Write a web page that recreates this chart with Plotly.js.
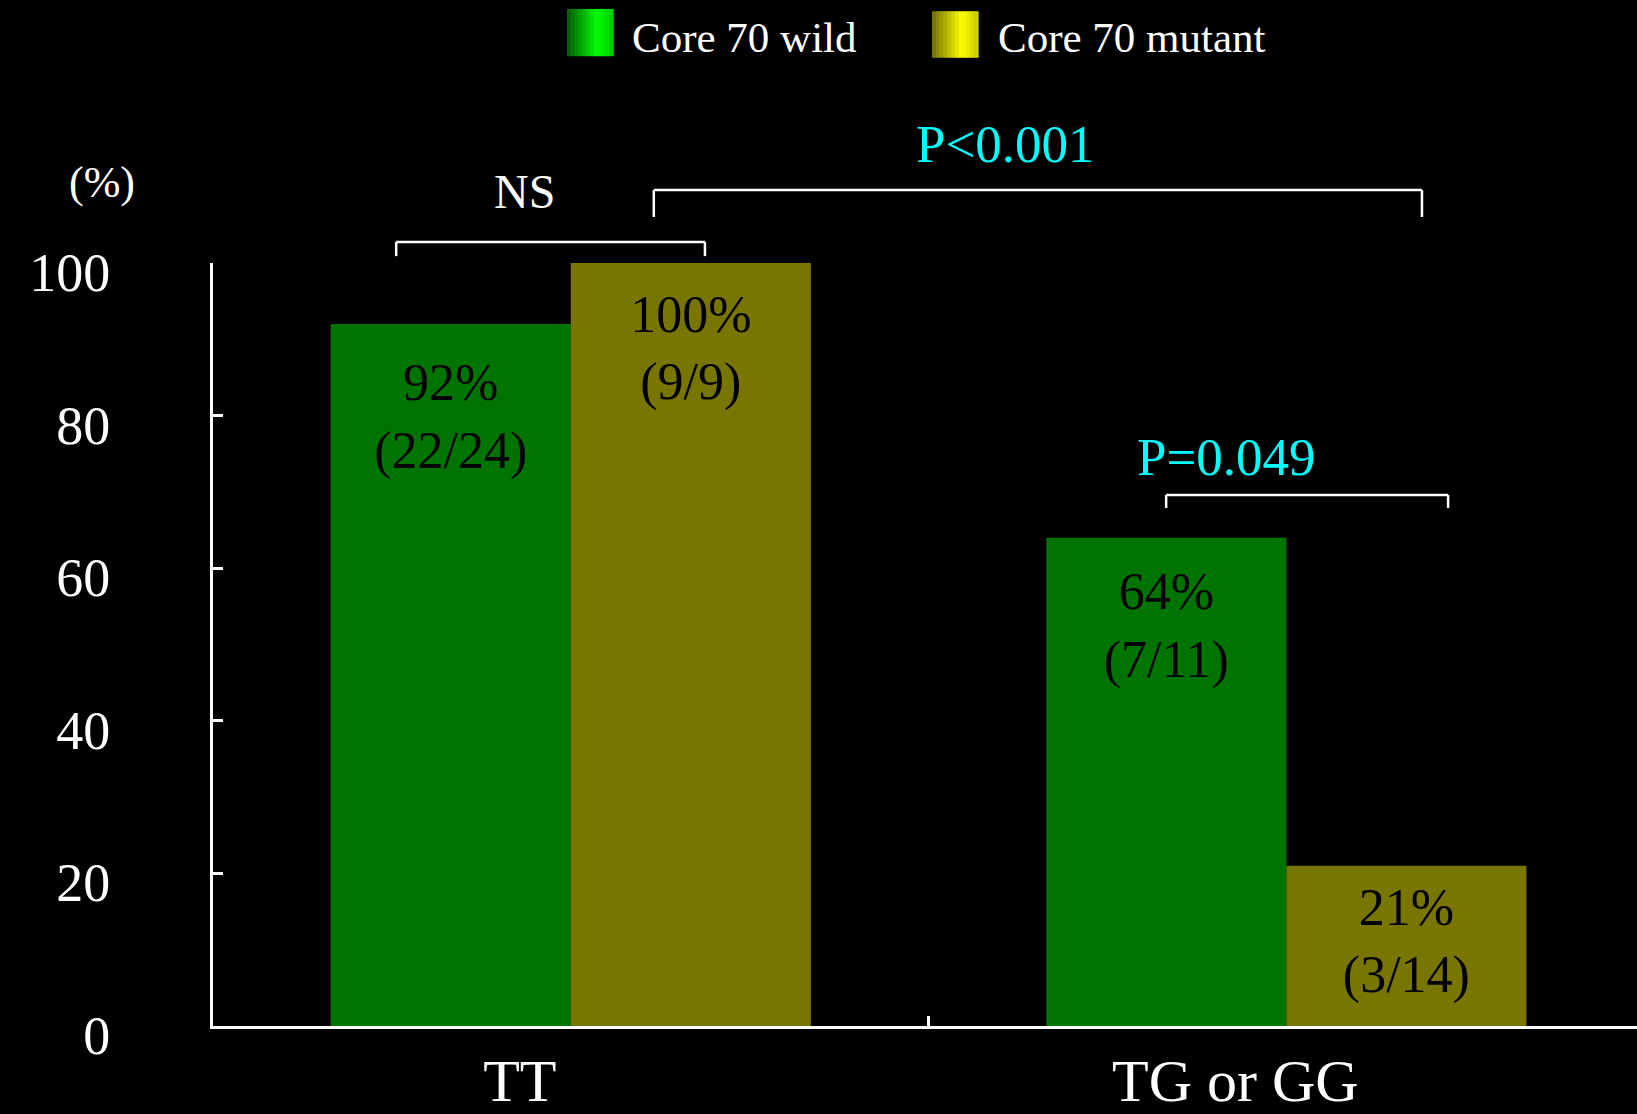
<!DOCTYPE html>
<html>
<head>
<meta charset="utf-8">
<script src="https://cdn.plot.ly/plotly-3.0.1.min.js"></script>
<style>html,body{margin:0;padding:0;background:#000;}#chart{width:1637px;height:1114px;}</style>
</head>
<body>
<div id="chart"></div>
<script>
// ---- data ----
const categories = ['TT', 'TG or GG'];
const wildValues = [92, 64];          // % Core 70 wild
const mutantValues = [100, 21];       // % Core 70 mutant
const wildCounts = ['22/24', '7/11'];
const mutantCounts = ['9/9', '3/14'];
const seriesNames = ['Core 70 wild', 'Core 70 mutant'];
const yTickVals = [0, 20, 40, 60, 80, 100];
const yTickText = ['0', '20', '40', '60', '80', '100'];
const pLabels = ['NS', 'P<0.001', 'P=0.049'];

const FONT = '"Liberation Serif", "Times New Roman", serif';
const WILD = '#007400';
const MUT = '#787600';
const GAP = 0.329;

function barTrace(name, vals, color, group) {
  return {
    type: 'bar', name: name, x: categories, y: vals,
    offsetgroup: group, alignmentgroup: 'a',
    marker: {color: color, line: {width: 0}},
    hoverinfo: 'skip'
  };
}
// invisible markers whose size sets how far below the bar top the label sits
function labelTrace(name, vals, counts, group, padSizes) {
  return {
    type: 'scatter', mode: 'markers+text', name: name + ' labels',
    x: categories, y: vals, customdata: counts,
    offsetgroup: group, alignmentgroup: 'a',
    marker: {size: padSizes, opacity: 0, color: '#000'},
    texttemplate: '%{y}%<br>(%{customdata})',
    textposition: 'bottom center',
    textfont: {family: FONT, size: 52, color: '#000'},
    cliponaxis: false, showlegend: false, hoverinfo: 'skip'
  };
}

const traces = [
  barTrace(seriesNames[0], wildValues, WILD, 'w'),
  barTrace(seriesNames[1], mutantValues, MUT, 'm'),
  labelTrace(seriesNames[0], wildValues, wildCounts, 'w', [58, 50]),
  labelTrace(seriesNames[1], mutantValues, mutantCounts, 'm', [46, 30])
];

// bracket helper (x in category units, y in paper units)
function bracket(x0, x1, yTop, yLeg) {
  const l = {color: '#fff', width: 2.5};
  return [
    {type: 'line', xref: 'x', yref: 'paper', x0: x0, x1: x1, y0: yTop, y1: yTop, line: l},
    {type: 'line', xref: 'x', yref: 'paper', x0: x0, x1: x0, y0: yTop, y1: yLeg, line: l},
    {type: 'line', xref: 'x', yref: 'paper', x0: x1, x1: x1, y0: yTop, y1: yLeg, line: l}
  ];
}

// legend swatches with a simple horizontal shading
function swatch(x0, x1, y0, y1, stops) {
  const n = 12, out = [];
  for (let i = 0; i < n; i++) {
    const t = (i + 0.5) / n;
    let a, b, f;
    if (t < 0.65) { a = stops[0]; b = stops[1]; f = t / 0.65; }
    else { a = stops[1]; b = stops[2]; f = (t - 0.65) / 0.35; }
    const c = a.map((v, k) => Math.round(v + (b[k] - v) * f));
    out.push({type: 'rect', xref: 'paper', yref: 'paper',
      x0: x0 + (x1 - x0) * i / n, x1: x0 + (x1 - x0) * (i + 1) / n + 0.0005,
      y0: y0, y1: y1, fillcolor: 'rgb(' + c.join(',') + ')', line: {width: 0}});
  }
  return out;
}

const shapes = [].concat(
  bracket(-0.244, 0.1875, 1.0275, 1.009),
  bracket(0.116, 1.1895, 1.0957, 1.0603),
  bracket(0.832, 1.226, 0.696, 0.679),
  swatch(0.2486, 0.2809, 1.271, 1.333, [[0, 90, 0], [0, 255, 0], [0, 200, 0]]),
  swatch(0.5049, 0.5372, 1.269, 1.330, [[110, 110, 0], [255, 255, 0], [200, 200, 0]])
);

function note(text, xref, x, y, size, color, xanchor) {
  return {text: text, xref: xref, yref: 'paper', x: x, y: y, showarrow: false,
    xanchor: xanchor || 'center', yanchor: 'middle',
    font: {family: FONT, size: size, color: color}};
}

const annotations = [
  note('(%)', 'paper', -0.078, 1.106, 44, '#fff'),
  note(pLabels[0], 'x', -0.065, 1.094, 48, '#fff'),
  note(pLabels[1], 'x', 0.608, 1.156, 53, '#00ffff'),
  note(pLabels[2], 'x', 0.917, 0.746, 53, '#00ffff'),
  note(seriesNames[0], 'paper', 0.2928, 1.295, 43, '#fff', 'left'),
  note(seriesNames[1], 'paper', 0.5499, 1.295, 43, '#fff', 'left')
];

const layout = {
  width: 1637, height: 1114,
  paper_bgcolor: '#000', plot_bgcolor: '#000',
  margin: {l: 213, r: 0, t: 263, b: 88, pad: 0},
  showlegend: false,
  barmode: 'group', bargap: GAP, bargroupgap: 0,
  scattermode: 'group', scattergap: GAP,
  font: {family: FONT, color: '#fff'},
  xaxis: {
    type: 'category', range: [-0.5, 1.49], fixedrange: true,
    showline: true, linecolor: '#fff', linewidth: 3,
    showgrid: false, zeroline: false,
    tickson: 'boundaries', ticks: 'inside', ticklen: 10, tickwidth: 3, tickcolor: '#fff',
    tickfont: {family: FONT, size: 60, color: '#fff'},
    ticklabelshift: -51, ticklabelstandoff: 0
  },
  yaxis: {
    range: [0, 100], fixedrange: true,
    showline: true, linecolor: '#fff', linewidth: 3,
    showgrid: false, zeroline: false,
    tickmode: 'array', tickvals: yTickVals, ticktext: yTickText,
    ticks: 'inside', ticklen: 10, tickwidth: 3, tickcolor: '#fff',
    tickfont: {family: FONT, size: 54, color: '#fff'},
    ticklabelshift: 9, ticklabelstandoff: 89
  },
  shapes: shapes,
  annotations: annotations
};

Plotly.newPlot('chart', traces, layout, {displayModeBar: false, staticPlot: true});
</script>
</body>
</html>
